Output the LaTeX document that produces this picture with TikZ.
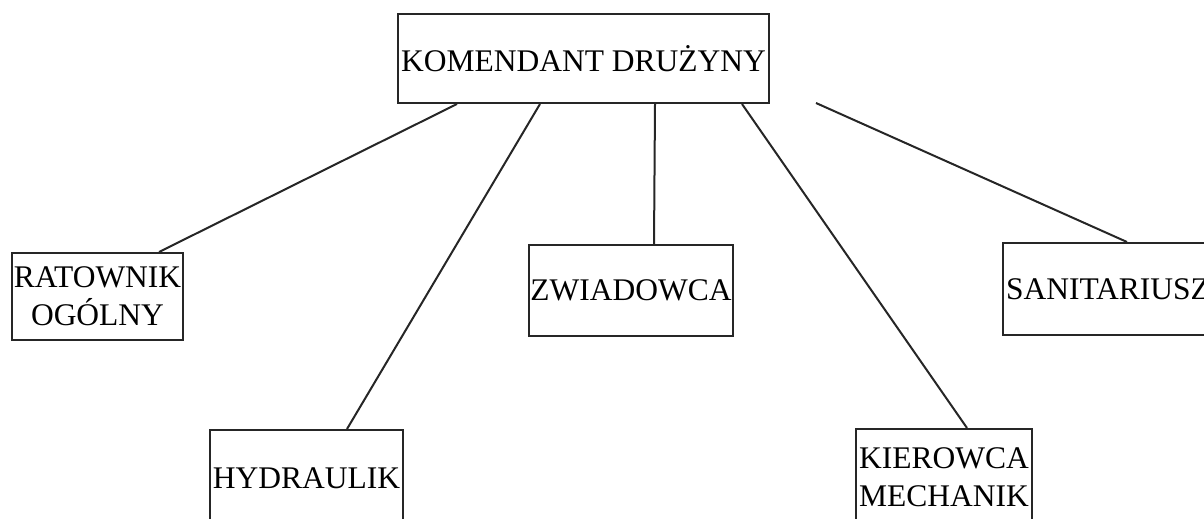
\documentclass[tikz,border=0pt]{standalone}
\usepackage{fontspec}
\setmainfont{Liberation Serif}
\begin{document}
\begin{tikzpicture}[x=1pt,y=-1pt,
  box/.style={draw=black!85,line width=2pt,inner sep=0pt,align=center,
    font=\fontsize{31.5}{38}\selectfont},
  conn/.style={draw=black!85,line width=2pt}]
\useasboundingbox (0,0) rectangle (1204,519);
\clip (0,0) rectangle (1204,519);
\node[box,minimum width=371pt,minimum height=89pt] (k) at (583.5,58.5) {KOMENDANT DRUŻYNY};
\node[box,minimum width=171pt,minimum height=87pt] (rat) at (97.5,296.5) {RATOWNIK\\OGÓLNY};
\node[box,minimum width=193pt,minimum height=96pt] (hyd) at (306.5,478) {HYDRAULIK};
\node[box,minimum width=204pt,minimum height=91pt] (zwi) at (631,290.5) {ZWIADOWCA};
\node[box,minimum width=176pt,minimum height=96pt] (kie) at (944,477) {KIEROWCA\\MECHANIK};
\node[box,minimum width=212pt,minimum height=92pt,align=left,text width=212pt] (san) at (1109,289) {\hspace*{3pt}SANITARIUSZ};
\coordinate (sfree) at (816,103);
\draw[conn] ([xshift=60pt]k.south west) -- ([xshift=148pt]rat.north west);
\draw[conn] ([xshift=143pt]k.south west) -- ([xshift=138pt]hyd.north west);
\draw[conn] ([xshift=258pt]k.south west) -- ([xshift=126pt]zwi.north west);
\draw[conn] ([xshift=345pt]k.south west) -- ([xshift=112pt]kie.north west);
\draw[conn] (sfree) -- ([xshift=125pt]san.north west);
\end{tikzpicture}
\end{document}
